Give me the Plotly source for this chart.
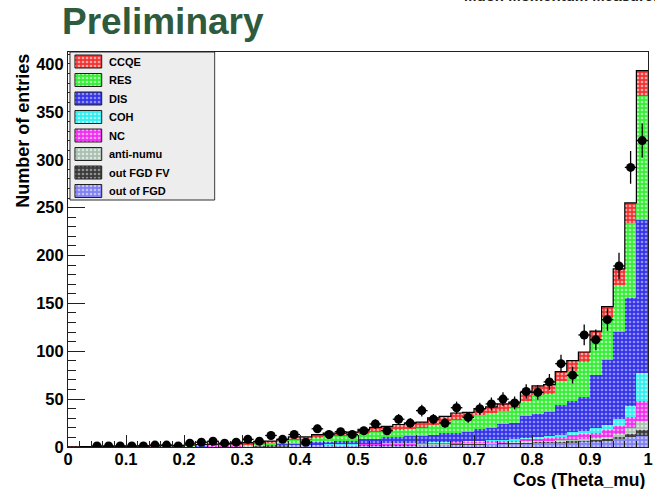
import numpy as np
import plotly.graph_objects as go

# 50 bins in cos(theta_mu) from 0 to 1
edges = np.linspace(0.0, 1.0, 51)
centers = 0.5 * (edges[:-1] + edges[1:])
width = edges[1] - edges[0]

# Monte Carlo components per bin (entries)
ccqe = [0.05, 0.1, 0.1, 0.15, 0.2, 0.25, 0.3, 0.35, 0.4, 0.5,
        0.6, 0.8, 0.9, 1.0, 1.2, 1.4, 1.6, 1.9, 2.5, 3.0,
        3.0, 3.5, 3.5, 3.5, 4.0, 4.5, 5.0, 5.0, 6.0, 6.0,
        6.0, 7.5, 7.0, 7.5, 6.0, 7.0, 7.0, 7.0, 6.0, 9.0,
        10, 10, 10, 11, 10, 9, 12, 17, 21, 26]
res = [0.05, 0.1, 0.1, 0.15, 0.2, 0.25, 0.3, 0.35, 0.4, 0.5,
       0.6, 0.7, 0.8, 1.0, 1.2, 1.4, 1.7, 1.9, 2.5, 4.0,
       3.5, 4.5, 5.5, 5.0, 5.0, 6.0, 7.0, 6.5, 7.0, 8.0,
       8.5, 10, 10.5, 13, 14, 14.5, 15, 14, 16, 16,
       19, 19, 25, 31, 37, 37, 43.5, 49, 78, 130]
dis = [0, 0, 0, 0, 0, 0, 0, 0, 0, 0,
       0.1, 0.1, 0.1, 0.1, 0.1, 0.2, 0.3, 0.6, 1.0, 1.3,
       1.7, 2.4, 2.8, 3.1, 3.3, 4.5, 4.9, 6.2, 6.3, 6.6,
       7.0, 8.0, 9.2, 9.3, 10, 12, 13, 16.5, 17, 22.5,
       24, 24.5, 31, 33, 35, 55, 68, 91, 113, 160]
coh = [0, 0, 0, 0, 0, 0, 0, 0, 0, 0,
       0, 0, 0, 0, 0, 0, 0, 0, 0, 0,
       0.1, 0.1, 0.1, 0.1, 0.2, 0.2, 0.2, 0.2, 0.3, 0.3,
       0.3, 0.4, 0.4, 0.4, 0.5, 0.5, 0.6, 0.7, 0.8, 1.0,
       1.5, 2.0, 2.0, 3.0, 4.0, 5.0, 5.0, 7.0, 12, 29]
nc = [0, 0, 0.1, 0.1, 0.1, 0.1, 0.1, 0.1, 0.2, 0.2,
      0.2, 0.2, 0.3, 0.3, 0.3, 0.4, 0.4, 0.4, 0.5, 0.5,
      0.5, 0.6, 0.6, 0.7, 0.7, 0.8, 0.8, 0.9, 0.9, 1.0,
      1.0, 1.1, 1.2, 1.3, 1.4, 1.5, 1.6, 1.7, 1.8, 2.5,
      3.0, 3.0, 3.5, 4.5, 5.0, 6.0, 7.5, 8.0, 11, 21]
anti_numu = [0, 0, 0, 0, 0, 0, 0, 0.1, 0.1, 0.1,
             0.1, 0.1, 0.1, 0.1, 0.2, 0.2, 0.2, 0.2, 0.2, 0.3,
             0.3, 0.3, 0.3, 0.3, 0.4, 0.4, 0.4, 0.4, 0.5, 0.5,
             0.5, 0.5, 0.6, 0.6, 0.6, 0.7, 0.7, 0.8, 0.8, 0.9,
             0.9, 1.0, 1.1, 1.2, 1.3, 1.5, 1.8, 3.5, 6.0, 9.0]
out_fgd_fv = [0, 0, 0, 0, 0.1, 0.1, 0.1, 0.1, 0.1, 0.1,
              0.1, 0.2, 0.2, 0.2, 0.2, 0.2, 0.3, 0.3, 0.3, 0.3,
              0.3, 0.4, 0.4, 0.4, 0.4, 0.5, 0.5, 0.5, 0.6, 0.6,
              0.6, 0.7, 0.7, 0.8, 0.8, 0.9, 0.9, 1.0, 1.0, 1.1,
              1.2, 1.2, 1.3, 1.4, 1.5, 1.6, 1.8, 2.5, 4.0, 6.0]
out_of_fgd = [0.1, 0.1, 0.1, 0.2, 0.2, 0.2, 0.3, 0.3, 0.3, 0.4,
              0.4, 0.5, 0.5, 0.6, 0.6, 0.7, 0.8, 0.9, 1.0, 1.1,
              1.1, 1.2, 1.3, 1.4, 1.5, 1.6, 1.7, 1.8, 1.9, 2.0,
              2.1, 2.2, 2.4, 2.6, 2.8, 3.0, 3.2, 3.4, 3.6, 3.9,
              4.2, 4.4, 4.8, 5.1, 5.4, 6.0, 7.0, 8.0, 10, 12]

# Observed data, bins from cos = 0.04 upward
data_counts = [1, 1, 1, 1, 1, 2, 2, 1, 4, 5,
               6, 4, 5, 8, 6, 12, 8, 13, 5, 19,
               13, 16, 13, 17, 24, 17, 29, 25, 38, 29,
               25, 41, 31, 40, 45, 50, 46, 58, 57, 68,
               87, 75, 117, 112, 133, 189, 292, 320]
data_first_bin = 2

# Stack drawn bottom to top: (label, values, fill colour, dot colour)
components = [
    ("out of FGD", out_of_fgd, "#8080EE", "#C8C8FF"),
    ("out FGD FV", out_fgd_fv, "#3A3A3A", "#9A9A9A"),
    ("anti-numu", anti_numu, "#A9BFB1", "#E2ECE5"),
    ("NC", nc, "#EE30EE", "#FFB0FF"),
    ("COH", coh, "#30EEEE", "#B8FFFF"),
    ("DIS", dis, "#3434E6", "#9A9AFF"),
    ("RES", res, "#36EE36", "#B8FFB8"),
    ("CCQE", ccqe, "#F03434", "#FFB4B4"),
]

FONT = "Liberation Sans, Arial, sans-serif"
W, H = 655, 489
ML, MR, MT, MB = 68, 2, 52, 42
PW, PH = W - ML - MR, H - MT - MB


def pattern(dot):
    return dict(shape=".", fillmode="overlay", fgcolor=dot, fgopacity=0.9, size=4, solidity=0.35)


fig = go.Figure()
for name, vals, col, dot in components:
    fig.add_trace(go.Bar(
        x=centers, y=vals, width=width, name=name,
        marker=dict(color=col, line=dict(width=0), pattern=pattern(dot)),
        showlegend=False, hoverinfo="skip",
    ))

# Outline of the summed stack
total = np.sum([np.array(v, dtype=float) for _, v, _, _ in components], axis=0)
fig.add_trace(go.Scatter(
    x=np.append(edges[:-1], edges[-1]), y=np.append(total, total[-1]),
    mode="lines", line=dict(color="black", width=1.2, shape="hv"),
    showlegend=False, hoverinfo="skip",
))

# Data points with statistical errors
dc = np.array(data_counts, dtype=float)
fig.add_trace(go.Scatter(
    x=centers[data_first_bin:], y=dc, mode="markers",
    marker=dict(color="black", size=9, symbol="circle"),
    error_y=dict(type="data", array=np.sqrt(dc), color="black", thickness=1.3, width=0),
    error_x=dict(type="constant", value=width / 2, color="black", thickness=1.3, width=0),
    showlegend=False, hoverinfo="skip",
))

# Legend panel, laid out in pixel units on its own hidden axes
LEG_L, LEG_T, LEG_W, LEG_H = 70, 52, 146, 148
ROW0, ROW_STEP, SW_X0, SW_X1, SW_H, TXT_X = 9.5, 18.5, 5, 32, 13, 37
fig.add_trace(go.Scatter(
    x=[0, LEG_W, LEG_W, 0, 0], y=[0, 0, LEG_H, LEG_H, 0], mode="lines",
    fill="toself", fillcolor="#EDEDED", line=dict(color="#303030", width=1),
    xaxis="x2", yaxis="y2", showlegend=False, hoverinfo="skip",
))
for i, (name, _, col, dot) in enumerate(reversed(components)):
    yc = ROW0 + ROW_STEP * i
    fig.add_trace(go.Scatter(
        x=[SW_X0, SW_X1, SW_X1, SW_X0, SW_X0],
        y=[yc - SW_H / 2, yc - SW_H / 2, yc + SW_H / 2, yc + SW_H / 2, yc - SW_H / 2],
        mode="lines", fill="toself", fillcolor=col, fillpattern=pattern(dot),
        line=dict(color="#202020", width=1),
        xaxis="x2", yaxis="y2", showlegend=False, hoverinfo="skip",
    ))
    fig.add_annotation(text=name, xref="x2", yref="y2", x=TXT_X, y=yc,
                       xanchor="left", yanchor="middle", showarrow=False,
                       font=dict(family=FONT, size=11, color="black", weight="bold"))

axis_common = dict(showgrid=False, zeroline=False, showline=True, linecolor="#202020",
                   linewidth=1, mirror=True, ticks="inside", tickcolor="#202020",
                   ticklabeloverflow="allow")

fig.update_layout(
    width=W, height=H,
    margin=dict(l=ML, r=MR, t=MT, b=MB),
    paper_bgcolor="white", plot_bgcolor="rgba(0,0,0,0)",
    barmode="stack", bargap=0,
    showlegend=False,
    xaxis=dict(range=[0, 1], dtick=0.1, tick0=0, ticklen=12, ticklabelstandoff=-3,
               minor=dict(dtick=0.02, ticklen=6, ticks="inside", tickcolor="#202020"),
               tickfont=dict(family=FONT, size=16.5, color="black", weight="bold"),
               **axis_common),
    yaxis=dict(range=[0, 412.5], dtick=50, tick0=0, ticklen=17,
               minor=dict(dtick=10, ticklen=8, ticks="inside", tickcolor="#202020"),
               tickfont=dict(family=FONT, size=16.5, color="black", weight="bold"),
               **axis_common),
    xaxis2=dict(domain=[(LEG_L - 1 - ML) / PW, (LEG_L + LEG_W + 1 - ML) / PW],
                range=[-1, LEG_W + 1], visible=False, anchor="y2", fixedrange=True),
    yaxis2=dict(domain=[(H - MB - (LEG_T + LEG_H + 1)) / PH, 1.0],
                range=[LEG_H + 1, 0], visible=False, anchor="x2", fixedrange=True),
)

fig.add_annotation(text="Preliminary", xref="paper", yref="paper", x=-0.0137, y=1.078,
                   xanchor="left", yanchor="middle", showarrow=False,
                   font=dict(family=FONT, size=37, color="#2E5B3E", weight="bold"))
fig.add_annotation(text="Muon Momentum Measurement", xref="paper", yref="paper", x=0.68, y=1.1165,
                   xanchor="left", yanchor="bottom", showarrow=False,
                   font=dict(family=FONT, size=15, color="#202020", weight="bold"))
fig.add_annotation(text="Number of entries", xref="paper", yref="paper", x=-0.078, y=1.0,
                   xanchor="center", yanchor="top", textangle=-90, showarrow=False,
                   font=dict(family=FONT, size=18, color="black", weight="bold"))
fig.add_annotation(text="Cos (Theta_mu)", xref="paper", yref="paper", x=0.998, y=-0.083,
                   xanchor="right", yanchor="middle", showarrow=False,
                   font=dict(family=FONT, size=17.5, color="black", weight="bold"))

fig.write_html("out.html")
